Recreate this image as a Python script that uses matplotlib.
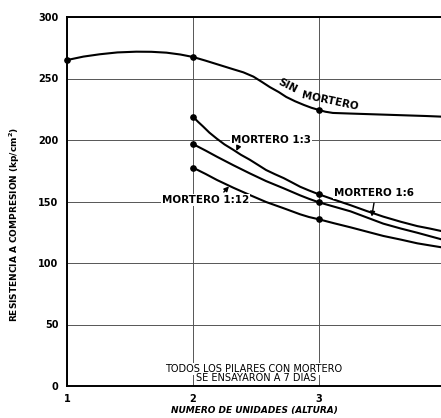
import matplotlib
matplotlib.use("Agg")
import matplotlib.pyplot as plt

# puntos leidos a lo largo de cada curva
sin_x = [1.0, 1.13, 1.26, 1.4, 1.55, 1.67, 1.79, 1.9, 2.0, 2.1, 2.21, 2.32, 2.4, 2.48, 2.55, 2.61, 2.68, 2.74, 2.81, 2.88, 2.94, 3.0, 3.05, 3.11, 3.25, 3.40, 3.55, 3.70, 3.85, 3.97]
sin_y = [265, 267.8, 269.7, 271.2, 271.8, 271.7, 271, 269.5, 267.5, 264.5, 261, 257.5, 255, 251.5, 247, 243, 239, 235, 231.5, 228.5, 226.2, 224.4, 223, 222, 221.5, 221, 220.5, 220, 219.5, 219]

m13_x = [2.0, 2.04, 2.08, 2.13, 2.19, 2.25, 2.32, 2.38, 2.45, 2.52, 2.58, 2.65, 2.72, 2.78, 2.85, 2.92, 3.0, 3.12, 3.25, 3.38, 3.51, 3.65, 3.78, 3.88, 3.97]
m13_y = [219, 214.8, 211, 206, 201, 196.4, 192, 188, 184, 179.5, 175.6, 172.2, 169, 165.8, 162, 159, 155.8, 151.5, 147, 142.2, 137.7, 133.5, 130, 128, 126]

m16_x = [2.0, 2.1, 2.19, 2.32, 2.45, 2.58, 2.72, 2.85, 2.92, 3.0, 3.12, 3.25, 3.38, 3.51, 3.65, 3.78, 3.88, 3.97]
m16_y = [196.7, 191.4, 186.4, 179.5, 172.9, 166.6, 160.7, 155, 152.2, 149.3, 145.8, 142, 137, 132, 128, 124.6, 121.8, 119.3]

m112_x = [2.0, 2.1, 2.19, 2.32, 2.45, 2.58, 2.72, 2.85, 2.92, 3.0, 3.12, 3.25, 3.38, 3.51, 3.65, 3.78, 3.88, 3.97]
m112_y = [177.5, 172.4, 167.5, 161.2, 155.3, 149.6, 144.5, 139.6, 137.4, 135.5, 132.3, 129, 125.5, 122, 119, 116, 114.3, 112.8]

# puntos ensayados (marcadores)
sin_pts_x = [1, 2, 3]
sin_pts_y = [265, 267.5, 224.4]
m13_pts = ([2, 3], [219, 155.8])
m16_pts = ([2, 3], [196.7, 149.3])
m112_pts = ([2, 3], [177.5, 135.5])

x_ticks = [1, 2, 3]
y_ticks = [0, 50, 100, 150, 200, 250, 300]

plt.rcParams['font.family'] = ['DejaVu Sans']
plt.rcParams['font.weight'] = 'bold'

fig = plt.figure(figsize=(4.41, 4.18), dpi=100)
ax = fig.add_axes([67 / 441, 32 / 418, 374 / 441, 369 / 418])
ax.set_xlim(1, 1 + 374 / 126)
ax.set_ylim(0, 300)

ax.set_xticks(x_ticks)
ax.set_yticks(y_ticks)
ax.tick_params(length=0, labelsize=7, pad=6)
for lab in ax.get_xticklabels() + ax.get_yticklabels():
    lab.set_fontweight('bold')

ax.grid(True, color='#555555', lw=0.7)
ax.set_axisbelow(True)
ax.spines['right'].set_visible(False)
for s in ['left', 'bottom', 'top']:
    ax.spines[s].set_linewidth(1.4)
    ax.spines[s].set_color('black')

lw = 1.5
ax.plot(sin_x, sin_y, color='black', lw=lw, clip_on=False, zorder=3)
ax.plot(m13_x, m13_y, color='black', lw=lw, zorder=3)
ax.plot(m16_x, m16_y, color='black', lw=lw, zorder=3)
ax.plot(m112_x, m112_y, color='black', lw=lw, zorder=3)

ax.plot(sin_pts_x, sin_pts_y, 'o', color='black', ms=3.8, clip_on=False, zorder=4)
for px, py in [m13_pts, m16_pts, m112_pts]:
    ax.plot(px, py, 'o', color='black', ms=3.8, zorder=4)

box = dict(facecolor='white', edgecolor='none', pad=0.8)

ax.text(2.75, 244, 'SIN', fontsize=7.5, rotation=-27, ha='center', va='center', zorder=5)
ax.text(3.09, 231.5, 'MORTERO', fontsize=7.5, rotation=-12, ha='center', va='center', zorder=5)

ax.text(2.62, 200, 'MORTERO 1:3', fontsize=7.5, ha='center', va='center', bbox=box, zorder=5)
ax.annotate('', xy=(2.335, 189), xytext=(2.37, 197),
            arrowprops=dict(arrowstyle='-|>', color='black', lw=1, mutation_scale=7), zorder=5)

ax.text(3.44, 157, 'MORTERO 1:6', fontsize=7.5, ha='center', va='center', bbox=box, zorder=5)
ax.annotate('', xy=(3.415, 135.5), xytext=(3.44, 151),
            arrowprops=dict(arrowstyle='-|>', color='black', lw=1, mutation_scale=7), zorder=5)

ax.text(2.10, 151, 'MORTERO 1:12', fontsize=7.5, ha='center', va='center', bbox=box, zorder=5)
ax.annotate('', xy=(2.30, 164), xytext=(2.23, 156),
            arrowprops=dict(arrowstyle='-|>', color='black', lw=1, mutation_scale=7), zorder=5)

ax.text(2.48, 13.8, 'TODOS LOS PILARES CON MORTERO', fontsize=7, fontweight='normal',
        ha='center', va='center', bbox=dict(facecolor='white', edgecolor='none', pad=0.5), zorder=5)
ax.text(2.5, 6.3, 'SE ENSAYARON A 7 DIAS', fontsize=7, fontweight='normal',
        ha='center', va='center', zorder=5)

ax.set_xlabel('NUMERO DE UNIDADES (ALTURA)', fontsize=6.5, fontstyle='italic',
              fontweight='bold', labelpad=1.5)
fig.text(15 / 441, 1 - 224 / 418, 'RESISTENCIA A COMPRESION (kp/cm$^{\\mathbf{2}}$)',
         rotation=90, fontsize=6.5, fontweight='bold', ha='center', va='center')

fig.savefig('out.png', dpi=100)
